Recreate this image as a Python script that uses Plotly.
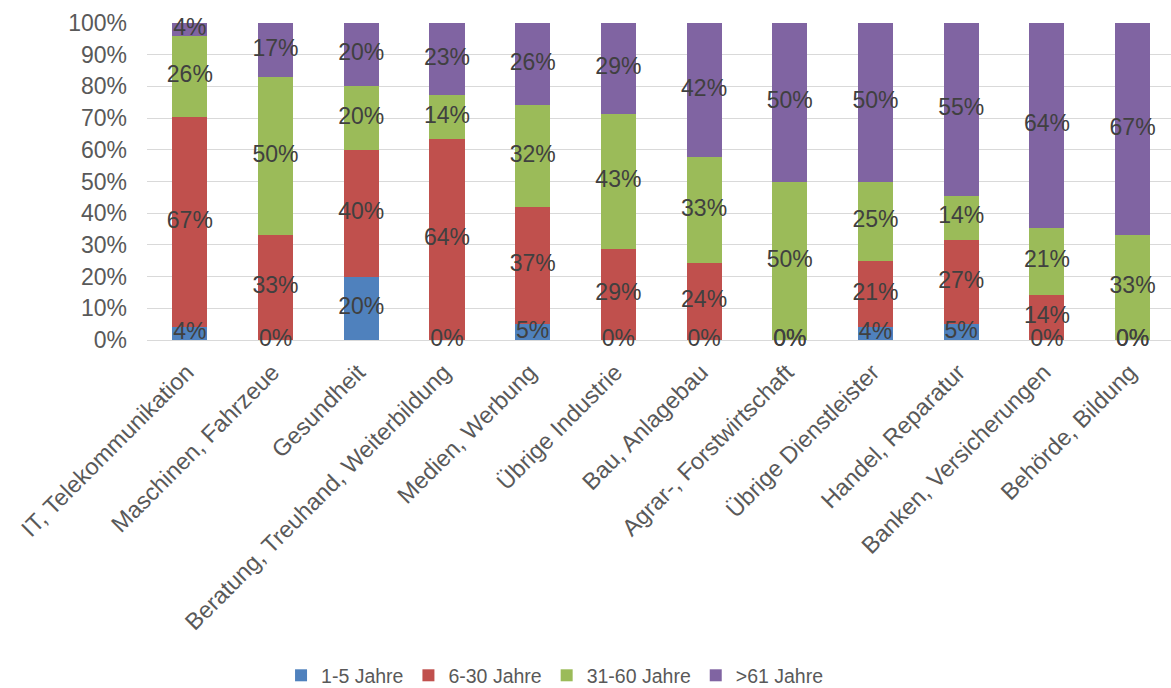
import numpy as np
import plotly.graph_objects as go

# Branchen (categories)
branchen = [
    "IT, Telekommunikation",
    "Maschinen, Fahrzeue",
    "Gesundheit",
    "Beratung, Treuhand, Weiterbildung",
    "Medien, Werbung",
    "Übrige Industrie",
    "Bau, Anlagebau",
    "Agrar-, Forstwirtschaft",
    "Übrige Dienstleister",
    "Handel, Reparatur",
    "Banken, Versicherungen",
    "Behörde, Bildung",
]

# Anteile je Altersklasse in Prozent
jahre_1_5 = [4, 0, 20, 0, 5, 0, 0, 0, 4, 5, 0, 0]
jahre_6_30 = [67, 33, 40, 64, 37, 29, 24, 0, 21, 27, 14, 0]
jahre_31_60 = [26, 50, 20, 14, 32, 43, 33, 50, 25, 14, 21, 33]
jahre_61 = [4, 17, 20, 23, 26, 29, 42, 50, 50, 55, 64, 67]

# y-Achsen-Beschriftung
y_ticks = list(range(0, 101, 10))
y_ticklabels = [f"{t}%" for t in y_ticks]

serien = [
    ("1-5 Jahre", jahre_1_5, "#4F81BD"),
    ("6-30 Jahre", jahre_6_30, "#C0504D"),
    ("31-60 Jahre", jahre_31_60, "#9BBB59"),
    (">61 Jahre", jahre_61, "#8064A2"),
]

FONT = "Liberation Sans, Arial, sans-serif"

x_idx = list(range(len(branchen)))
werte = np.array([s[1] for s in serien], dtype=float)
summen = werte.sum(axis=0)
normiert = werte / summen * 100.0
basis = np.vstack([np.zeros(len(branchen)), np.cumsum(normiert, axis=0)[:-1]])
mitte = basis + normiert / 2.0

fig = go.Figure()

for name, vals, farbe in serien:
    fig.add_trace(go.Bar(
        x=x_idx, y=vals, name=name,
        marker=dict(color=farbe, line=dict(width=0)),
        hoverinfo="skip",
    ))

# Prozent-Beschriftungen in der Mitte jedes Segments
for i, (name, vals, farbe) in enumerate(serien):
    fig.add_trace(go.Scatter(
        x=x_idx, y=mitte[i], mode="text",
        text=[f"{v:.0f}%" for v in vals],
        textposition="middle center",
        textfont=dict(family=FONT, size=23, color="#404040"),
        showlegend=False, hoverinfo="skip", cliponaxis=False,
    ))

fig.update_layout(
    width=1171, height=688,
    margin=dict(l=147, r=0, t=23, b=348, autoexpand=False),
    barmode="stack", barnorm="percent",
    bargap=0.59,
    plot_bgcolor="white", paper_bgcolor="white",
    font=dict(family=FONT, color="#595959"),
    showlegend=True,
    legend=dict(
        orientation="h", xref="container", yref="container",
        x=0.240, xanchor="left", y=0.018, yanchor="middle",
        font=dict(family=FONT, size=19.5, color="#595959"),
        itemwidth=30, traceorder="normal",
    ),
)

fig.update_xaxes(
    tickmode="array", tickvals=x_idx, ticktext=branchen,
    range=[-0.5, 11.448], tickangle=-45,
    tickfont=dict(family=FONT, size=23.5, color="#595959"),
    showgrid=False, showline=False, zeroline=False, ticks="",
    ticklabelstandoff=13, ticklabelshift=-3,
    automargin=False,
)

fig.update_yaxes(
    range=[0, 100], tickmode="array", tickvals=y_ticks, ticktext=y_ticklabels,
    tickfont=dict(family=FONT, size=23, color="#595959"),
    showgrid=True, gridcolor="#D9D9D9", gridwidth=1.3,
    zeroline=True, zerolinecolor="#D9D9D9", zerolinewidth=1.3,
    showline=False, ticks="", ticklabelstandoff=19,
    automargin=False,
)

fig.write_html("out.html")
